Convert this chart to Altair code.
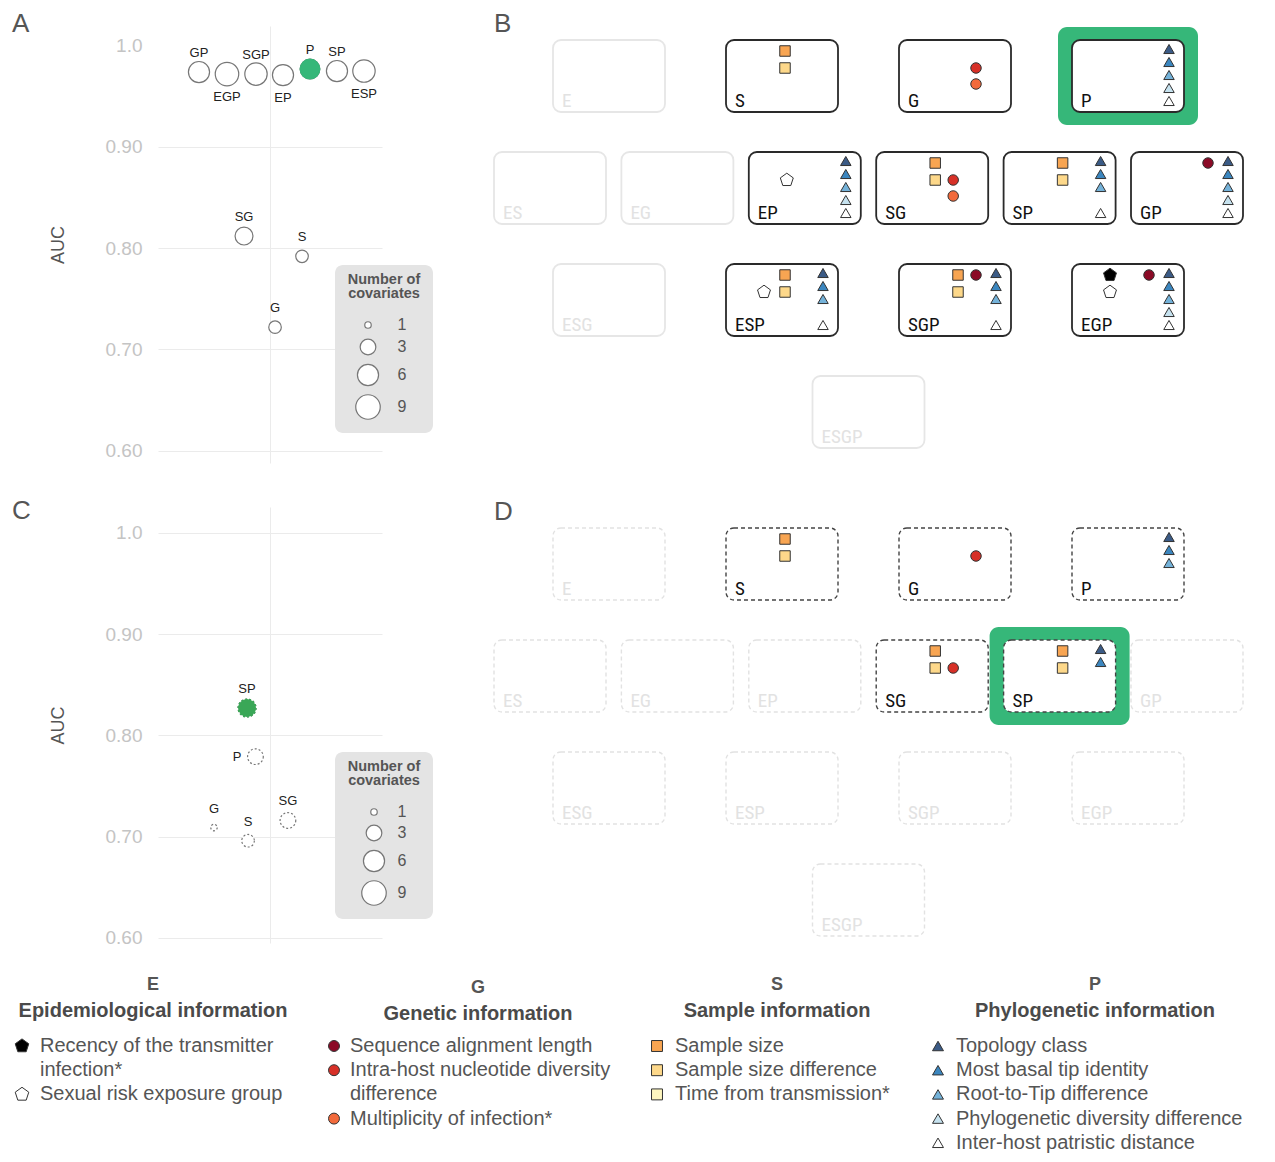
import altair as alt
import pandas as pd

# ======================= DATA =======================
cov_keys = ["recency", "risk", "seqlen", "intra", "moi", "ssize", "ssdiff", "ttrans",
            "topo", "basal", "rtt", "pd", "patr"]
cov_labels = ["Recency of the transmitter\ninfection*", "Sexual risk exposure group",
              "Sequence alignment length", "Intra-host nucleotide diversity\ndifference",
              "Multiplicity of infection*", "Sample size", "Sample size difference",
              "Time from transmission*", "Topology class", "Most basal tip identity",
              "Root-to-Tip difference", "Phylogenetic diversity difference",
              "Inter-host patristic distance"]
cov_group = ["E", "E", "G", "G", "G", "S", "S", "S", "P", "P", "P", "P", "P"]

group_keys = ["E", "G", "S", "P"]
group_titles = ["Epidemiological information", "Genetic information",
                "Sample information", "Phylogenetic information"]

model_rows = [["E", "S", "G", "P"],
              ["ES", "EG", "EP", "SG", "SP", "GP"],
              ["ESG", "ESP", "SGP", "EGP"],
              ["ESGP"]]

P5 = ["topo", "basal", "rtt", "pd", "patr"]
covs_B = {
    "S": ["ssize", "ssdiff"],
    "G": ["intra", "moi"],
    "P": P5,
    "EP": ["risk"] + P5,
    "SG": ["ssize", "ssdiff", "intra", "moi"],
    "SP": ["ssize", "ssdiff", "topo", "basal", "rtt", "patr"],
    "GP": ["seqlen"] + P5,
    "ESP": ["risk", "ssize", "ssdiff", "topo", "basal", "rtt", "patr"],
    "SGP": ["ssize", "ssdiff", "seqlen", "topo", "basal", "rtt", "patr"],
    "EGP": ["recency", "risk", "seqlen"] + P5,
}
covs_D = {
    "S": ["ssize", "ssdiff"],
    "G": ["intra"],
    "P": ["topo", "basal", "rtt"],
    "SG": ["ssize", "ssdiff", "intra"],
    "SP": ["ssize", "ssdiff", "topo", "basal"],
}
best_B = "P"
best_D = "SP"

names_A = ["GP", "EGP", "SGP", "EP", "P", "SP", "ESP", "SG", "S", "G"]
auc_A = [0.974, 0.972, 0.972, 0.971, 0.977, 0.975, 0.975, 0.812, 0.792, 0.722]
jitter_A = [-0.634, -0.384, -0.125, 0.116, 0.357, 0.598, 0.839, -0.232, 0.286, 0.045]

names_C = ["SP", "P", "G", "S", "SG"]
auc_C = [0.827, 0.779, 0.709, 0.696, 0.716]
jitter_C = [-0.205, -0.13, -0.5, -0.196, 0.16]

auc_ticks = [0.6, 0.7, 0.8, 0.9, 1.0]
size_legend_values = [1, 3, 6, 9]
size_legend_title = ["Number of", "covariates"]

# ======================= STYLE / LAYOUT =======================
SANS = "Liberation Sans, Arial, Helvetica, sans-serif"
NARROW = "Liberation Sans Narrow, Roboto Condensed, DejaVu Sans Condensed, sans-serif"
TXT = "#555555"
GREEN_A = "#35b779"
GREEN_C = "#3aa757"
GREEN_BOX = "#36b779"
cov_colors = ["#000000", "#ffffff", "#8b0a26", "#d73027", "#f26a3b", "#f8a552", "#fdd88a",
              "#fef6bf", "#3b5b86", "#3b86bf", "#74b2d9", "#c6e2ef", "#ffffff"]
PENTAGON = "M0,-1.3L1.236,-0.402L0.764,1.052L-0.764,1.052L-1.236,-0.402Z"
group_shape = {"E": PENTAGON, "G": "circle", "S": "square", "P": "triangle-up"}
cov_shapes = [group_shape[g] for g in cov_group]

label_pos_A = {"GP": "above", "EGP": "below", "SGP": "above", "EP": "below", "P": "above",
               "SP": "above", "ESP": "below", "SG": "above", "S": "above", "G": "above"}
label_pos_C = {"SP": "above", "P": "left", "G": "above", "S": "above", "SG": "above"}

# page-pixel layout
PLOT_X0, PLOT_W = 158, 224
ROW1_Y0, ROW1_H = 26, 437
COL_GAP, ROW_GAP = 98, 44
DIAG_X0 = PLOT_X0 + PLOT_W + COL_GAP
DIAG_W = 777
ROW2_Y0 = ROW1_Y0 + ROW1_H + ROW_GAP
ROW2_H = 436

# size-legend box layout (plot-relative px)
LEGBOX_A = dict(x0=177, x1=275, y0=239, y1=407, title_y=254, sym_x=210, lab_x=244,
                rows=[299, 321, 349, 381])
LEGBOX_C = dict(x0=177, x1=275, y0=245, y1=412, title_y=260, sym_x=216, lab_x=244,
                rows=[305, 326, 354, 386])

BOX_W, BOX_H = 112, 72
DIAG_CX = 868.5
COL_STEP = {4: 173, 6: 127.4, 1: 0}
ROW_STEP = 112
B_ROW0 = 76
D_ROW0 = 564
HL_PAD_X, HL_PAD_Y = 70, 49

slot = {"recency": (-18, -25), "risk": (-18, -8),
        "ssize": (3, -25), "ssdiff": (3, -8), "ttrans": (3, 8),
        "seqlen": (21, -25), "intra": (21, -8), "moi": (21, 8),
        "topo": (41, -27), "basal": (41, -14), "rtt": (41, -1), "pd": (41, 12), "patr": (41, 25)}

LEG_SYM_X = {"E": 22, "G": 334, "S": 657, "P": 938}
LEG_TXT_DX = {"E": 18, "G": 16, "S": 18, "P": 18}
LEG_HEAD_X = {"E": 153, "G": 478, "S": 777, "P": 1095}
LEG_HEAD_DY = {"E": 0, "G": 3, "S": 0, "P": 0}
LEG_LETTER_Y, LEG_TITLE_Y = 985, 1011
LEG_LINE0, LEG_LINE_STEP = 1046, 24.2

fill_scale = alt.Scale(domain=cov_keys, range=cov_colors)
shape_scale = alt.Scale(domain=cov_keys, range=cov_shapes)


def letter_layer(text, x, y):
    return alt.Chart(pd.DataFrame({"t": [text]})).mark_text(
        font=SANS, fontSize=26, color=TXT, align="left", baseline="alphabetic"
    ).encode(text="t:N", x=alt.value(x), y=alt.value(y))


def scatter(names, auc, jit, covs, best, label_pos, ydom, height, dashed, green, letter, letter_y,
            lb, hide_top_grid, marker):
    df = pd.DataFrame({
        "model": names, "auc": auc, "jitter": jit,
        "ncov": [len(covs[n]) for n in names],
        "best": [n == best for n in names],
        "pos": [label_pos[n] for n in names],
    })
    grid_op = ({"condition": {"test": "datum.value >= 0.999", "value": 0}, "value": 1}
               if hide_top_grid else 1)
    x = alt.X("jitter:Q", scale=alt.Scale(domain=[-1, 1], nice=False, zero=False),
              axis=alt.Axis(values=[0], grid=True, labels=False, ticks=False, domain=False,
                            title=None, gridColor="#ebebeb"))
    yscale = alt.Scale(domain=ydom, nice=False, zero=False)
    y_ax = alt.Y("auc:Q", scale=yscale,
                 axis=alt.Axis(values=auc_ticks, title="AUC", grid=True, gridColor="#ebebeb",
                               gridOpacity=grid_op,
                               labelExpr="datum.value >= 0.999 ? '1.0' : format(datum.value, '.2f')",
                               labelPadding=16, titlePadding=38))
    y_na = alt.Y("auc:Q", scale=yscale, axis=None)
    size_scale = alt.Scale(type="sqrt", domain=[1, 9], range=[42, 600], zero=False)
    mk = dict(shape="circle", strokeWidth=1.2, opacity=1, fillOpacity=1, strokeOpacity=1)
    if dashed:
        mk["strokeDash"] = [2, 2]
    pts = alt.Chart(df).mark_point(filled=True, fill="white", stroke="#777", **mk).encode(
        x=x, y=y_ax, size=alt.Size("ncov:Q", scale=size_scale, legend=None))
    base = alt.Chart(df).encode(x=x, y=y_na)
    best_pts = base.transform_filter("datum.best").mark_point(filled=True, fill=green, stroke=green, **mk).encode(
        size=alt.Size("ncov:Q", scale=size_scale, legend=None))
    tx = dict(font=SANS, fontSize=13, color="#222")
    above = base.transform_filter("datum.pos == 'above'").mark_text(dy=-19, **tx).encode(text="model:N")
    below = base.transform_filter("datum.pos == 'below'").mark_text(dy=23, **tx).encode(text="model:N")
    left = base.transform_filter("datum.pos == 'left'").mark_text(dx=-14, align="right", **tx).encode(text="model:N")

    # size legend (drawn with the same size scale)
    ly = alt.Scale(domain=[0, height], range=[0, height], nice=False, zero=False)
    leg_items = pd.DataFrame({"v": size_legend_values, "ly": lb["rows"]})
    leg_title = pd.DataFrame({"t": size_legend_title,
                              "ly": [lb["title_y"] + 14 * i for i in range(len(size_legend_title))]})
    leg_bg = alt.Chart(pd.DataFrame({"m": [0]})).mark_rect(fill="#e4e4e4", cornerRadius=8).encode(
        x=alt.value(lb["x0"]), x2=alt.value(lb["x1"]), y=alt.value(lb["y0"]), y2=alt.value(lb["y1"]))
    leg_ttl = alt.Chart(leg_title).mark_text(font=SANS, fontSize=14.5, fontWeight="bold", color=TXT).encode(
        x=alt.value((lb["x0"] + lb["x1"]) / 2), y=alt.Y("ly:Q", scale=ly, axis=None), text="t:N")
    leg_sym = alt.Chart(leg_items).mark_point(filled=True, fill="white", stroke="#777", shape="circle",
                                              strokeWidth=1.2, opacity=1).encode(
        x=alt.value(lb["sym_x"]), y=alt.Y("ly:Q", scale=ly, axis=None),
        size=alt.Size("v:Q", scale=size_scale, legend=None))
    leg_lab = alt.Chart(leg_items).mark_text(font=SANS, fontSize=16, color=TXT).encode(
        x=alt.value(lb["lab_x"]), y=alt.Y("ly:Q", scale=ly, axis=None), text="v:N")

    layers = [pts, best_pts, above, below, left, leg_bg, leg_ttl, leg_sym, leg_lab,
              letter_layer(letter, -146, letter_y)]
    if marker:
        layers.append(alt.Chart(pd.DataFrame({"m": [0]})).mark_rect(opacity=0).encode(
            x=alt.value(-150), x2=alt.value(-149), y=alt.value(-18), y2=alt.value(-17)))
    return alt.layer(*layers).resolve_scale(y="independent").properties(width=PLOT_W, height=height)


def box_positions(row0):
    out = {}
    for r, row in enumerate(model_rows):
        n = len(row)
        for i, m in enumerate(row):
            out[m] = (DIAG_CX + (i - (n - 1) / 2) * COL_STEP[n], row0 + r * ROW_STEP)
    return out


def diagram(covs, best, row0, y0, h, dashed, letter, letter_y, with_legend):
    pos = box_positions(row0)
    xs = alt.Scale(domain=[DIAG_X0, DIAG_X0 + DIAG_W], nice=False, zero=False)
    ys = alt.Scale(domain=[y0, y0 + h], nice=False, zero=False, reverse=True)

    boxes = pd.DataFrame([{
        "model": m, "x0": cx - BOX_W / 2, "x1": cx + BOX_W / 2,
        "y0": cy - BOX_H / 2, "y1": cy + BOX_H / 2,
        "lx": cx - BOX_W / 2 + 9, "ly": cy + BOX_H / 2 - 11, "active": m in covs}
        for m, (cx, cy) in pos.items()])
    syms = pd.DataFrame([{"model": m, "cov": c, "x": pos[m][0] + slot[c][0], "y": pos[m][1] + slot[c][1]}
                         for m, cl in covs.items() for c in cl])
    bx, by = pos[best]
    hl = pd.DataFrame([{"x0": bx - HL_PAD_X, "x1": bx + HL_PAD_X, "y0": by - HL_PAD_Y, "y1": by + HL_PAD_Y}])

    X = lambda f: alt.X(f, scale=xs, axis=None)
    Y = lambda f: alt.Y(f, scale=ys, axis=None)

    hl_layer = alt.Chart(hl).mark_rect(cornerRadius=9, color=GREEN_BOX).encode(
        x=X("x0:Q"), x2="x1:Q", y=Y("y0:Q"), y2="y1:Q")
    if dashed:
        rk = dict(cornerRadius=8, fill="white", strokeWidth=1.4, strokeDash=[4, 3])
        on_col, off_col = "#444", "#e2e2e2"
    else:
        rk = dict(cornerRadius=8, fill="white", strokeWidth=1.8)
        on_col, off_col = "#2a2a2a", "#e6e6e6"
    box_layer = alt.Chart(boxes).mark_rect(**rk).encode(
        x=X("x0:Q"), x2="x1:Q", y=Y("y0:Q"), y2="y1:Q",
        stroke=alt.condition("datum.active", alt.value(on_col), alt.value(off_col)))
    lab_layer = alt.Chart(boxes).mark_text(align="left", baseline="middle", font=NARROW, fontSize=19).encode(
        x=X("lx:Q"), y=Y("ly:Q"), text="model:N",
        color=alt.condition("datum.active", alt.value("#111"), alt.value("#e2e2e2")))
    sym_layer = alt.Chart(syms).mark_point(filled=True, size=110, stroke="#333", strokeWidth=1, opacity=1).encode(
        x=X("x:Q"), y=Y("y:Q"),
        shape=alt.Shape("cov:N", scale=shape_scale, legend=None),
        fill=alt.Fill("cov:N", scale=fill_scale, legend=None))
    layers = [hl_layer, box_layer, lab_layer, sym_layer, letter_layer(letter, 14, letter_y)]

    if with_legend:
        heads = pd.DataFrame([{"g": g, "title": t, "x": LEG_HEAD_X[g],
                               "yl": LEG_LETTER_Y + LEG_HEAD_DY[g], "yt": LEG_TITLE_Y + LEG_HEAD_DY[g]}
                              for g, t in zip(group_keys, group_titles)])
        item_sym, item_txt = [], []
        line = {g: 0 for g in group_keys}
        for k, lab, g in zip(cov_keys, cov_labels, cov_group):
            item_sym.append({"cov": k, "x": LEG_SYM_X[g], "y": LEG_LINE0 + line[g] * LEG_LINE_STEP})
            for part in lab.split("\n"):
                item_txt.append({"t": part, "x": LEG_SYM_X[g] + LEG_TXT_DX[g],
                                 "y": LEG_LINE0 + line[g] * LEG_LINE_STEP})
                line[g] += 1
        item_sym = pd.DataFrame(item_sym)
        item_txt = pd.DataFrame(item_txt)
        layers += [
            alt.Chart(heads).mark_text(font=SANS, fontSize=18, fontWeight="bold", color=TXT).encode(
                x=X("x:Q"), y=Y("yl:Q"), text="g:N"),
            alt.Chart(heads).mark_text(font=SANS, fontSize=20, fontWeight="bold", color="#4a4a4a").encode(
                x=X("x:Q"), y=Y("yt:Q"), text="title:N"),
            alt.Chart(item_sym).mark_point(filled=True, size=120, stroke="#333", strokeWidth=1, opacity=1).encode(
                x=X("x:Q"), y=Y("y:Q"),
                shape=alt.Shape("cov:N", scale=shape_scale, legend=None),
                fill=alt.Fill("cov:N", scale=fill_scale, legend=None)),
            alt.Chart(item_txt).mark_text(font=SANS, fontSize=20, color=TXT, align="left").encode(
                x=X("x:Q"), y=Y("y:Q"), text="t:N"),
        ]
    return alt.layer(*layers).properties(width=DIAG_W, height=h)


ydom_A = [0.6 - (ROW1_Y0 + ROW1_H - 450.7) / 1010, 1.0 + (45.7 - ROW1_Y0) / 1010]
ydom_C = [0.6 - (ROW2_Y0 + ROW2_H - 938.0) / 1010, 1.0 + (532.7 - ROW2_Y0) / 1010]

A = scatter(names_A, auc_A, jitter_A, covs_B, best_B, label_pos_A, ydom_A, ROW1_H, False, GREEN_A,
            "A", 6, LEGBOX_A, True, True)
C = scatter(names_C, auc_C, jitter_C, covs_D, best_D, label_pos_C, ydom_C, ROW2_H, True, GREEN_C,
            "C", 12, LEGBOX_C, False, False)
B = diagram(covs_B, best_B, B_ROW0, ROW1_Y0, ROW1_H, False, "B", 6, False)
D = diagram(covs_D, best_D, D_ROW0, ROW2_Y0, ROW2_H, True, "D", 13, True)

chart = alt.concat(A, B, C, D, columns=2, spacing={"row": ROW_GAP, "column": COL_GAP},
                   bounds="flush", align="each").resolve_scale(
    size="independent").properties(
    padding=0, autosize=alt.AutoSizeParams(type="pad")).configure_view(
    strokeWidth=0).configure_axis(
    domain=False, ticks=False, labelFont=SANS, labelFontSize=19, labelColor="#c4c4c4",
    titleFont=SANS, titleFontSize=18, titleColor=TXT, titleFontWeight="normal")

chart.save("out.html", embed_options={"renderer": "svg", "actions": False})
